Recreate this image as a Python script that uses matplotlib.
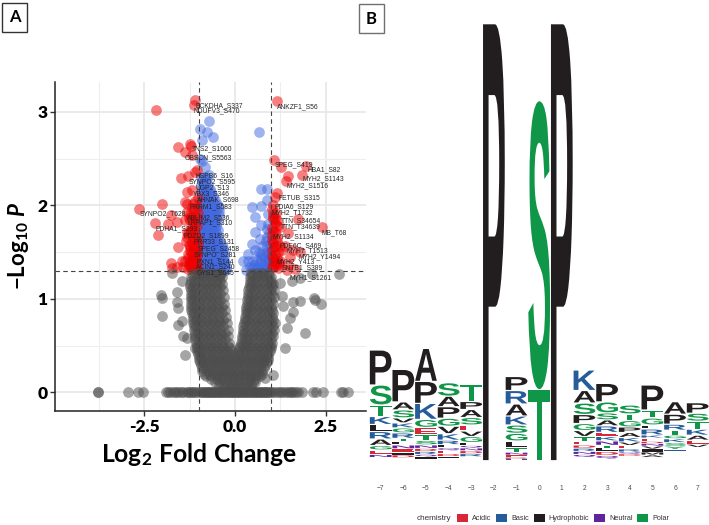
#!/usr/bin/env python
# volcano plot (A) and sequence logo (B)
import numpy as np
import matplotlib
matplotlib.use('Agg')
import matplotlib.pyplot as plt
from matplotlib.patches import PathPatch, Patch, Rectangle
from matplotlib.textpath import TextPath
from matplotlib.font_manager import FontProperties
from matplotlib.transforms import Affine2D

plt.rcParams['font.family'] = ['Liberation Sans', 'DejaVu Sans']
plt.rcParams['mathtext.fontset'] = 'custom'
plt.rcParams['mathtext.rm'] = 'Lato:bold'
plt.rcParams['mathtext.bf'] = 'Lato:bold'
plt.rcParams['mathtext.it'] = 'Lato:italic:bold'

# ---- volcano data: log2 fold change, -log10 p
red_x = [-1.10, -1.13, -2.19, -1.24, -1.22, -1.56, -1.38, -1.19, -1.06, -1.10, -1.50, -1.29, -1.33, -1.19,
         -2.02, -2.64, -1.38, -1.33, -1.77, -1.61, -2.20, -1.84, -1.38, -1.24, -1.24, -2.11, -1.33, -1.19,
         -1.56, -1.24, -1.15, -1.29, -1.19, -1.77, -1.74, -1.47, -1.38, -1.24, -1.15, -1.29, -1.10, -1.06,
         -1.15, -1.19, -1.10, -1.06, -1.19, -1.33, -1.42, -1.61, -1.06, -1.10, -1.12, -1.08, -1.20, -1.05,
         -1.10, -1.16, -1.24,
         -1.04, -1.12, -1.20, -1.28, -1.05, -1.13, -1.21, -1.30, -1.04, -1.11, -1.19, -1.27, -1.35,
         -1.06, -1.14, -1.22, -1.30, -1.04, -1.12, -1.20, -1.28, -1.05, -1.13, -1.21, -1.06, -1.14,
         -1.03, -1.09, -1.17, -1.03, -1.09, -1.16, -1.24, -1.32, -1.03, -1.08, -1.15, -1.22,
         1.15, 1.08, 1.27, 1.97, 1.84, 1.47, 1.40, 1.17, 1.10, 1.04, 1.06, 1.10, 1.06, 1.74, 2.41, 1.47,
         1.15, 1.24, 1.38, 1.61, 1.29, 1.10, 1.52, 1.24, 1.47, 1.19, 1.06, 1.65, 1.79, 1.01, 1.06, 1.15,
         1.24, 1.01, 1.01, 1.42,
         1.03, 1.09, 1.15, 1.03, 1.09, 1.16, 1.04, 1.10, 1.18, 1.03, 1.08, 1.14, 1.22, 1.04, 1.10, 1.18,
         1.03, 1.08, 1.15, 1.04, 1.12]
red_y = [3.13, 3.07, 3.02, 2.66, 2.64, 2.62, 2.57, 2.54, 2.38, 2.36, 2.29, 2.31, 2.14, 2.16,
         2.02, 1.96, 2.04, 2.01, 1.90, 1.82, 1.81, 1.80, 1.84, 1.91, 1.84, 1.68, 1.72, 1.73,
         1.55, 1.57, 1.57, 1.48, 1.48, 1.38, 1.33, 1.40, 1.41, 1.41, 1.38, 1.32, 1.45, 1.50,
         1.66, 1.77, 1.81, 1.86, 1.97, 1.93, 1.34, 1.34, 1.62, 1.70, 1.55, 1.42, 1.36, 1.34,
         1.33, 1.43, 1.52,
         1.98, 1.95, 1.88, 1.86, 1.78, 1.76, 1.74, 1.69, 1.66, 1.64, 1.61, 1.58, 1.62,
         1.54, 1.52, 1.50, 1.44, 1.46, 1.42, 1.39, 1.36, 1.37, 1.33, 1.32, 1.31, 1.40,
         2.08, 2.05, 2.02, 1.92, 1.88, 1.84, 1.72, 1.66, 1.58, 1.48, 1.45, 1.35,
         3.12, 2.49, 2.41, 2.42, 2.33, 2.31, 2.26, 2.13, 2.09, 2.00, 1.88, 1.81, 1.73, 1.85, 1.77, 1.70,
         1.66, 1.57, 1.56, 1.52, 1.52, 1.48, 1.45, 1.40, 1.36, 1.36, 1.41, 1.32, 1.50, 1.63, 1.91, 1.84,
         1.77, 1.52, 1.34, 1.31,
         1.96, 1.86, 1.78, 1.76, 1.72, 1.62, 1.60, 1.56, 1.50, 1.46, 1.43, 1.40, 1.38, 1.34, 1.36, 1.33,
         1.68, 1.55, 1.44, 1.85, 1.92]

blue_levels = [2.3, 2.26, 2.22, 2.18, 2.14, 2.1, 2.06, 2.02, 1.98, 1.94, 1.9, 1.86, 1.82, 1.78, 1.74, 1.7,
               1.66, 1.62, 1.58, 1.54, 1.5, 1.46, 1.42, 1.38, 1.34, 1.31]
blue_rows = [[-.95, -.85, -.8],
             [-.9, -.8],
             [-.95, -.85, -.75],
             [-.9, -.8, -.7],
             [-.95, -.85, -.75, -.65],
             [-.9, -.8, -.7, -.6],
             [-.95, -.85, -.75, -.65, -.55],
             [-.9, -.8, -.7, -.6, -.5],
             [-.96, -.86, -.76, -.66, -.56, -.45],
             [-.91, -.81, -.71, -.61, -.51, -.44],
             [-.96, -.86, -.76, -.66, -.56, -.45],
             [-.91, -.81, -.71, -.61, -.51],
             [-.96, -.86, -.76, -.66, -.56, -.5],
             [-.91, -.81, -.71, -.61, -.51],
             [-.96, -.86, -.76, -.66, -.56, -.46],
             [-.91, -.81, -.71, -.61, -.51],
             [-.96, -.86, -.76, -.66, -.56, -.46],
             [-.91, -.81, -.71, -.61, -.51, -.41],
             [-.96, -.86, -.76, -.66, -.56, -.46, -.35],
             [-.91, -.81, -.71, -.61, -.51, -.41, -.33],
             [-.96, -.86, -.76, -.66, -.56, -.46, -.36, -.3],
             [-.91, -.81, -.71, -.61, -.51, -.41, -.31],
             [-.96, -.86, -.76, -.66, -.56, -.46, -.36, -.3],
             [-.91, -.81, -.71, -.61, -.51, -.41, -.31, -.27],
             [-.96, -.86, -.76, -.66, -.56, -.46, -.36, -.25],
             [-.91, -.81, -.71, -.61, -.51, -.41, -.31, -.25]]
blue_extra_x = [-.73, -.96, -.78, -.60, -.92, -.92, -.96, -.83, -.73,
                .67, .73, .89, .87, .47, .73, .55, .92, .73, .55, .87, .46, .69, .55, .37, .23,
                .73, .37, .87, .87, .50, .69, .83, .92, .60, .92, .78, .30, .46, .96, .92,
                .65, .75, .85, .93, .78, .88, .95, .62, .72, .82, .93, .42, .52, .62, .72, .82, .9, .96]
blue_extra_y = [2.90, 2.82, 2.79, 2.73, 2.70, 2.48, 2.50, 2.41, 2.32,
                2.79, 2.18, 2.17, 2.06, 1.98, 1.99, 1.88, 1.91, 1.79, 1.71, 1.75, 1.59, 1.64, 1.52, 1.48, 1.40,
                1.48, 1.40, 1.56, 1.66, 1.41, 1.38, 1.41, 1.48, 1.34, 1.34, 1.31, 1.31, 1.33, 1.59, 1.80,
                1.50, 1.56, 1.62, 1.70, 1.46, 1.50, 1.42, 1.42, 1.44, 1.36, 1.38, 1.34, 1.36, 1.32, 1.33, 1.33, 1.42, 1.50]

gray_levels = [.05, .08, .11, .14, .17, .2, .23, .26, .29, .32, .35, .38, .41, .44, .47, .5, .53, .565,
               .6, .635, .67, .705, .74, .775, .81, .845, .88, .915, .95, .985, 1.02, 1.055, 1.09, 1.125,
               1.16, 1.195, 1.23, 1.255, 1.28]
gray_rows = [[-.3, -.15, 0, .15, .3, .42],
             [-.45, -.3, -.15, 0, .15, .3, .45],
             [-.55, -.4, -.25, -.1, .05, .2, .35, .5],
             [-.65, -.5, -.35, -.2, -.05, .1, .25, .4, .55],
             [-.8, -.65, -.5, -.35, -.2, -.05, .1, .25, .4, .55, .7],
             [-.85, -.72, -.57, -.42, -.27, -.12, .03, .18, .33, .48, .63, .74],
             [-.9, -.75, -.6, -.45, -.3, -.15, 0, .15, .3, .45, .6, .75],
             [-.92, -.82, -.67, -.52, -.37, -.22, -.07, .08, .23, .38, .53, .68, .8],
             [-.95, -.8, -.65, -.5, -.35, -.2, -.05, .1, .25, .4, .55, .7, .82],
             [-.97, -.88, -.73, -.58, -.43, -.28, -.13, .02, .17, .32, .47, .62, .77, .87],
             [-1.0, -.85, -.7, -.55, -.4, -.25, -.1, .05, .2, .35, .5, .65, .8, .9],
             [-1.0, -.93, -.78, -.63, -.48, -.33, -.18, -.04, .12, .27, .42, .57, .72, .85, .92],
             [-1.02, -.9, -.75, -.6, -.45, -.3, -.15, 0, .15, .3, .45, .6, .75, .9],
             [-1.04, -.97, -.82, -.67, -.52, -.37, -.22, -.08, .08, .22, .37, .52, .67, .82, .97],
             [-1.05, -.9, -.75, -.6, -.45, -.3, -.15, .12, .27, .42, .57, .72, .87, 1.0],
             [-1.06, -.97, -.82, -.67, -.52, -.37, -.2, .14, .22, .35, .5, .65, .8, .95, 1.0],
             [-1.08, -.95, -.8, -.65, -.5, -.35, -.17, .17, .3, .45, .6, .75, .9, 1.02],
             [-1.09, -1.02, -.87, -.72, -.57, -.42, -.27, .18, .27, .38, .53, .68, .83, .98],
             [-1.1, -.95, -.8, -.65, -.5, -.35, -.18, .2, .35, .5, .65, .8, .95, 1.05],
             [-1.1, -1.02, -.87, -.72, -.57, -.42, -.27, .21, .28, .43, .58, .73, .88, 1.02],
             [-1.12, -1.0, -.85, -.7, -.55, -.4, -.2, .22, .37, .52, .67, .82, .97, 1.08],
             [-1.13, -1.07, -.92, -.77, -.62, -.47, -.32, .23, .3, .45, .6, .75, .9, 1.04],
             [-1.15, -1.0, -.85, -.7, -.55, -.4, -.22, .25, .4, .55, .7, .85, 1.0, 1.1],
             [-1.16, -1.08, -.93, -.78, -.63, -.48, -.33, .27, .33, .48, .63, .78, .93, 1.06],
             [-1.17, -1.05, -.9, -.75, -.6, -.45, -.25, .28, .42, .57, .72, .87, 1.02],
             [-1.18, -1.12, -.97, -.82, -.67, -.52, -.37, .29, .35, .5, .65, .8, .95, 1.05],
             [-1.2, -1.05, -.9, -.75, -.6, -.45, -.28, .3, .45, .6, .75, .9, 1.03],
             [-1.2, -1.12, -.97, -.82, -.67, -.52, -.37, .31, .38, .53, .68, .83, .98],
             [-1.2, -1.08, -.93, -.78, -.63, -.48, -.3, .32, .47, .62, .77, .92, 1.05],
             [-1.21, -1.15, -1.0, -.85, -.7, -.55, -.4, .33, .4, .55, .7, .85, 1.0],
             [-1.22, -1.1, -.95, -.8, -.65, -.5, -.3, .35, .5, .65, .8, .95, 1.07],
             [-1.22, -1.17, -1.02, -.87, -.72, -.57, -.42, .36, .43, .58, .73, .88, 1.02],
             [-1.22, -1.1, -.95, -.8, -.65, -.5, -.33, .37, .52, .67, .82, .97, 1.07],
             [-1.23, -1.17, -1.02, -.87, -.72, -.57, -.42, .38, .45, .6, .75, .9, 1.03],
             [-1.25, -1.1, -.95, -.8, -.65, -.5, -.35, .4, .55, .7, .85, 1.0, 1.05],
             [-1.22, -1.12, -.97, -.82, -.67, -.52, -.4, .41, .48, .63, .78, .93, 1.0],
             [-1.2, -1.05, -.9, -.75, -.6, -.45, -.35, .42, .57, .72, .87, .98],
             [-1.15, -1.0, -.85, -.7, -.55, -.42, .43, .5, .65, .8, .95],
             [-1.1, -.95, -.8, -.65, -.5, -.38, .45, .6, .75, .9]]
gray_extra_x = [-2.04, -2.02, -2.0, -1.61, -1.61, -1.56, -1.56, -1.47, -1.44, -1.38, -1.1, -1.33, -1.74, -1.47,
                1.56, 1.79, 2.11, 2.87, 2.2, 2.18, 2.36, 1.79, 1.59, 1.59, 1.52, 1.29, 1.42, 1.38, 1.93,
                1.06, .83, .55, 1.33, 1.24]
gray_extra_y = [1.04, 1.01, .82, 1.07, .97, .9, .72, .76, .6, .4, .47, .58, 1.275, 1.19,
                1.19, 1.22, 1.27, 1.27, .99, 1.01, .94, .98, .97, .86, .79, 1.03, .69, .47, .63,
                .18, .15, .11, .92, 1.17]
zero_x = [-3.78, -3.78, -2.94, -2.66, -2.54, -1.91, -1.85, -1.79, -1.7, -1.65, -1.61, -1.55, -1.47, -1.42,
          -1.33, -1.3, -1.25, -1.19, -1.15, -1.1, -1.05,
          -.96, -.89, -.82, -.75, -.68, -.61, -.54, -.47, -.4, -.33, -.26, -.19, -.12, -.05,
          .02, .09, .16, .23, .3, .37, .44, .51, .58, .65, .72, .79, .86, .93,
          -.93, -.85, -.78, -.71, -.64, -.57, -.5, -.43, -.36, -.29, -.22, -.15, -.08,
          -.02, .05, .12, .19, .26, .33, .4, .47, .54, .61, .68, .75, .82, .89,
          .96, 1.02, 1.08, 1.15, 1.22, 1.28, 1.33, 1.4, 1.47, 1.52, 1.58, 1.61, 1.68, 1.74, 1.84,
          2.14, 2.23, 2.43, 2.91, 2.97, 3.12]

label_names = ['BCKDHA_S337', 'NDUFV3_S470', 'ANKZF1_S56', 'TNS2_S1000', 'OBSCN_S5563', 'SPEG_S419', 'HBA1_S82',
               'MYH2_S1143', 'MYH2_S1516', 'HSPB6_S16', 'SYNPO2_S595', 'UGP2_S13', 'YBX3_S346', 'AHNAK_S698',
               'FRRM1_S583', 'FETUB_S315', 'PDIA6_S129', 'MYH2_T1732', 'TTN_S34654', 'TTN_T34639', 'MB_T68',
               'ABLIM2_S536', 'LRPAP1_S310', 'SYNPO2_T628', 'PDHA1_S293', 'PDZD2_S1899', 'PRR33_S131',
               'SPEG_S2458', 'SYNPO_S281', 'PXN1_S144', 'ACIN1_S240', 'GYS1_S645', 'MYH2_S1134', 'PDE6C_S469',
               'MYH7_T1513', 'MYH2_Y1494', 'MYH2_Y413', 'SNTB1_S389', 'MYH1_S1261']
label_x = [-1.08, -1.13, 1.15, -1.19, -1.38, 1.08, 1.99, 1.85, 1.42, -1.08, -1.27, -1.10, -1.15, -1.04,
           -1.26, 1.21, 1.10, 1.01, 1.26, 1.26, 2.39, -1.31, -1.31, -2.62, -2.19, -1.41, -1.15,
           -1.03, -1.13, -1.07, -1.08, -1.06, 1.03, 1.24, 1.42, 1.74, 1.13, 1.29, 1.5]
label_y = [3.07, 3.01, 3.05, 2.61, 2.51, 2.43, 2.38, 2.28, 2.21, 2.32, 2.25, 2.19, 2.12, 2.06,
           1.98, 2.08, 1.99, 1.92, 1.83, 1.77, 1.71, 1.87, 1.81, 1.91, 1.75, 1.67, 1.61,
           1.54, 1.47, 1.40, 1.34, 1.28, 1.66, 1.57, 1.51, 1.45, 1.40, 1.33, 1.23]

# ---- logo data: letters of each stack top to bottom, heights in bits
logo_positions = [-7, -6, -5, -4, -3, -2, -1, 0, 1, 2, 3, 4, 5, 6, 7]
logo_floor = [.033, .03, .017, .023, .04, 0, 0, 0, 0, .033, .017, .047, .033, .09, .133]
logo_letters = ['PSTKLRAGEN', 'PASVKGRTLNEID', 'APKGETSNDRQI', 'SAPGVKRLQEDI', 'TPASEVGLQNDR',
                'P', 'PRAKSGLTNEDH', 'ST', 'P', 'KASPGVTEDRNQ', 'PGSAREKNTLDQ', 'STGPAKVERQD',
                'PTGLRKEDNVIMA', 'APRTGKSYH', 'PSTKAEV']
logo_heights = [[.35, .2, .115, .08, .07, .075, .065, .045, .045, .029],
                [.325, .08, .08, .05, .05, .05, .055, .03, .035, .04, .035, .025, .028],
                [.33, .22, .16, .08, .075, .055, .045, .035, .03, .03, .023, .023],
                [.135, .105, .115, .08, .075, .065, .045, .03, .03, .03, .027, .02],
                [.175, .08, .08, .075, .06, .055, .06, .03, .025, .027, .03, .03],
                [4.37],
                [.14, .135, .12, .09, .083, .077, .063, .05, .027, .023, .017, .017],
                [2.89, .71],
                [4.37],
                [.205, .125, .115, .09, .07, .06, .05, .035, .032, .032, .03, .03],
                [.185, .11, .07, .06, .065, .04, .045, .045, .025, .035, .04, .036],
                [.09, .065, .065, .055, .05, .045, .035, .035, .03, .02, .02],
                [.25, .08, .07, .04, .06, .03, .035, .02, .025, .03, .03, .03, .024],
                [.125, .1, .06, .05, .035, .04, .035, .03, .025],
                [.105, .08, .08, .06, .05, .04, .032]]
chem_names = ['Acidic', 'Basic', 'Hydrophobic', 'Neutral', 'Polar']
chem_colors = ['#D62839', '#255C99', '#221E1F', '#5E239D', '#109648']
chem_letters = ['DE', 'KRH', 'AVLIPWFM', 'QN', 'GSTYC']

W, H = 709., 525.


# axes rectangle from pixel edges of the picture
def px_axes(fig, left, right, top, bottom):
    return fig.add_axes([left/W, 1-bottom/H, (right-left)/W, (bottom-top)/H])


def draw_letter(ax, ch, x, y, h, color, prop):
    path = TextPath((0, 0), ch, size=1, prop=prop)
    box = path.get_extents()
    gap = min(.006, .15*h)
    tr = Affine2D().translate(-box.x0, -box.y0).scale(.96/box.width, (h-2*gap)/box.height).translate(x-.48, y+gap)
    ax.add_patch(PathPatch(path, transform=tr+ax.transData, fc=color, ec='none', lw=0))


fig = plt.figure(figsize=(7.09, 5.25), dpi=100)

# ---- panel A
ax = px_axes(fig, 55, 366, 82, 411)
ax.set_xlim(-4.96, 3.61)
ax.set_ylim(-.2, 3.32)
ax.set_xticks([-2.5, 0, 2.5])
ax.set_xticklabels(['-2.5', '0.0', '2.5'])
ax.set_yticks([0, 1, 2, 3])
ax.set_xticks([-3.75, -1.25, 1.25], minor=True)
ax.set_yticks([.5, 1.5, 2.5], minor=True)
ax.grid(True, which='major', color='#e6e6e6', lw=1.2)
ax.grid(True, which='minor', color='#eeeeee', lw=.8)
ax.set_axisbelow(True)
ax.tick_params(which='minor', length=0)
ax.tick_params(which='major', length=3.5, width=1, pad=2, color='#333333')
for lab in ax.get_xticklabels()+ax.get_yticklabels():
    lab.set_family('Lato')
    lab.set_weight('heavy')
    lab.set_size(12.5)
for side in ['top', 'right']:
    ax.spines[side].set_visible(False)
for side in ['left', 'bottom']:
    ax.spines[side].set_linewidth(1.1)
    ax.spines[side].set_color('#222222')

blue_x = np.concatenate([np.concatenate(blue_rows), blue_extra_x])
blue_y = np.concatenate([np.repeat(blue_levels, [len(r) for r in blue_rows]), blue_extra_y])
gray_x = np.concatenate([np.concatenate(gray_rows), gray_extra_x, zero_x])
gray_y = np.concatenate([np.repeat(gray_levels, [len(r) for r in gray_rows]), gray_extra_y, np.zeros(len(zero_x))])

ms = 60
ax.scatter(blue_x, blue_y, s=ms, c='#4169E1', alpha=.5, lw=0, zorder=3, clip_on=False)
ax.scatter(red_x, red_y, s=ms, c='#EE0000', alpha=.5, lw=0, zorder=3, clip_on=False)
ax.scatter(gray_x, gray_y, s=ms, c='#4D4D4D', alpha=.5, lw=0, zorder=3, clip_on=False)

for xv in [-1, 1]:
    ax.axvline(xv, color='#444444', lw=.8, dashes=(4, 3), zorder=4)
ax.axhline(1.301, color='#444444', lw=.8, dashes=(4, 3), zorder=4)

for name, xv, yv in zip(label_names, label_x, label_y):
    ax.text(xv, yv, name, fontsize=4.9, color='#262626', ha='left', va='center', zorder=5)

ax.set_xlabel(r'$\mathbf{Log_2\ Fold\ Change}$', fontsize=17.7)
ax.xaxis.set_label_coords((199-55)/311., -(454-411)/329., transform=ax.transAxes)
ax.xaxis.label.set_va('center')
ax.set_ylabel(r'$\mathbf{-Log_{10}}\ \mathit{P}$', fontsize=16)
ax.yaxis.set_label_coords(-(55-19)/311., (411-246)/329., transform=ax.transAxes)
ax.yaxis.label.set_va('center')

# ---- panel B
lx = px_axes(fig, 367, 709, 10, 478)
lx.set_xlim(-7.605, 7.5)
lx.set_ylim(-.173, 4.507)
lx.patch.set_alpha(0)
for s in lx.spines.values():
    s.set_visible(False)
lx.set_yticks([])
lx.set_xticks(logo_positions)
lx.set_xticklabels([str(p).replace('-', '\u2212') for p in logo_positions], fontsize=4.8, color='#4d4d4d')
lx.tick_params(axis='x', length=0, pad=5)

prop = FontProperties(family='Liberation Sans', weight='bold')
letter_color = {}
for cname, letters in zip(chem_colors, chem_letters):
    for ch in letters:
        letter_color[ch] = cname

for pos, floor, letters, heights in zip(logo_positions, logo_floor, logo_letters, logo_heights):
    y = floor
    for ch, h in zip(letters[::-1], heights[::-1]):
        draw_letter(lx, ch, pos, y, h, letter_color[ch], prop)
        y += h

handles = [Patch(fc=c, ec='none', label=n) for n, c in zip(chem_names, chem_colors)]
fig.legend(handles=handles, ncol=5, loc='center left', bbox_to_anchor=(457/W, 1-518/H), frameon=False,
           fontsize=5.2, handlelength=1.53, handleheight=1.53, handletextpad=.55, columnspacing=.65,
           borderpad=0, borderaxespad=0, labelcolor='#333333')
fig.text(417/W, 1-518/H, 'chemistry', fontsize=5.9, color='#333333', ha='left', va='center')

# ---- panel letters
for letter, x0, x1, y0, y1, ec in [('A', 2, 27, 3, 31.5, '#333333'), ('B', 358.5, 384, 4, 33, '#707070')]:
    fig.add_artist(Rectangle((x0/W, 1-y1/H), (x1-x0)/W, (y1-y0)/H, transform=fig.transFigure, fc='white', ec=ec, lw=1))
    fig.text((x0+x1)/2/W, 1-(y0+y1)/2/H, letter, family='Lato', weight='bold', fontsize=12, ha='center', va='center')

fig.savefig('out.png', dpi=100)
